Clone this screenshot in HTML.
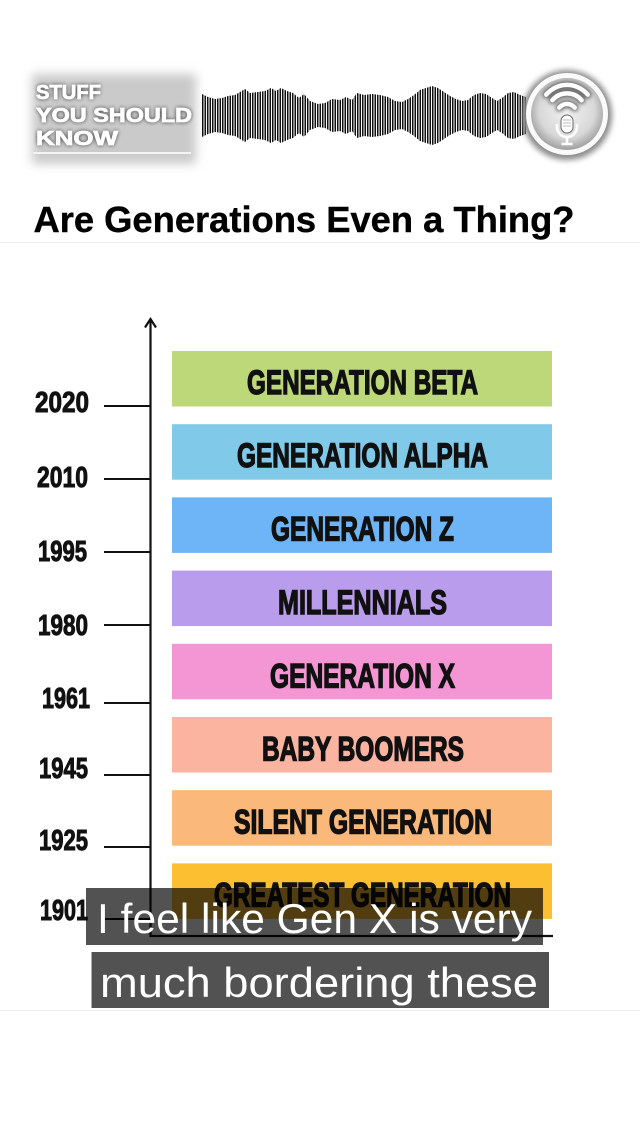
<!DOCTYPE html>
<html>
<head>
<meta charset="utf-8">
<style>
  html,body{margin:0;padding:0;background:#fff;}
  body{width:640px;height:1136px;overflow:hidden;}
  svg{display:block;}
  text{font-family:"Liberation Sans", Arial, sans-serif;}
</style>
</head>
<body>
<svg width="640" height="1136" viewBox="0 0 640 1136" xmlns="http://www.w3.org/2000/svg">
  <defs>
    <filter id="blur6" x="-20%" y="-30%" width="140%" height="160%"><feGaussianBlur stdDeviation="5"/></filter>
    <filter id="blur2" x="-20%" y="-30%" width="140%" height="160%"><feGaussianBlur stdDeviation="2"/></filter>
    <filter id="blur3" x="-30%" y="-30%" width="160%" height="160%"><feGaussianBlur stdDeviation="3"/></filter>
    <pattern id="wv" x="202" y="0" width="2.5" height="10" patternUnits="userSpaceOnUse">
      <rect x="0" y="0" width="1.5" height="10" fill="#111"/>
    </pattern>
    <radialGradient id="cg" cx="50%" cy="45%" r="55%">
      <stop offset="0%" stop-color="#f2f2f2"/>
      <stop offset="70%" stop-color="#d8d8d8"/>
      <stop offset="100%" stop-color="#a0a0a0"/>
    </radialGradient>
  </defs>

  <rect x="0" y="0" width="640" height="1136" fill="#ffffff"/>

  <!-- Logo block -->
  <rect x="32" y="74" width="164" height="90" fill="#cacaca" filter="url(#blur6)"/>
  <rect x="33" y="152" width="158" height="2" fill="#f4f4f4"/>
  <g font-weight="bold" font-size="20">
    <g fill="#111" filter="url(#blur2)" opacity="0.9">
      <text x="36" y="99" textLength="65" lengthAdjust="spacingAndGlyphs">STUFF</text>
      <text x="36" y="122" textLength="156" lengthAdjust="spacingAndGlyphs">YOU SHOULD</text>
      <text x="36" y="145" textLength="82" lengthAdjust="spacingAndGlyphs">KNOW</text>
    </g>
    <g fill="#ffffff" stroke="#ffffff" stroke-width="0.8">
      <text x="36" y="99" textLength="65" lengthAdjust="spacingAndGlyphs">STUFF</text>
      <text x="36" y="122" textLength="156" lengthAdjust="spacingAndGlyphs">YOU SHOULD</text>
      <text x="36" y="145" textLength="82" lengthAdjust="spacingAndGlyphs">KNOW</text>
    </g>
  </g>

  <!-- Waveform -->
  <polygon fill="url(#wv)" points="202,94 208,97 215,99 222,98 228,96 235,95 240,92 245,89 250,93 258,92 265,91 271,88 276,91 281,88 287,91 293,93 299,98 304,94 310,101 318,104 325,103 332,99 340,100 346,97 352,100 357,93 364,95 372,94 380,95 388,97 395,101 402,102 408,99 414,95 420,90 426,88 432,86 438,88 444,92 450,96 456,99 462,101 468,100 474,95 480,93 486,94 492,98 497,101 502,98 508,93 514,92 520,95 526,97 526,134 520,136 514,139 508,138 502,133 497,130 492,133 486,137 480,138 474,136 468,131 462,130 456,132 450,135 444,139 438,143 432,145 426,143 420,141 414,136 408,132 402,129 395,130 388,134 380,136 372,137 364,136 357,138 352,131 346,134 340,131 332,132 325,128 318,127 310,130 304,137 299,133 293,138 287,140 281,143 276,140 271,143 265,140 258,139 250,138 245,142 240,139 235,136 228,135 222,133 215,132 208,134 202,137"/>

  <!-- Podcast icon -->
  <circle cx="567" cy="115" r="45" fill="#8a8a8a" filter="url(#blur3)"/>
  <circle cx="567" cy="114" r="41" fill="#fafafa"/>
  <circle cx="567" cy="114" r="36" fill="url(#cg)"/>
  <g fill="none" stroke-linecap="round">
    <g stroke="#555" stroke-width="7" filter="url(#blur2)">
      <path d="M546.3 94.6 A27 27 0 0 1 587.7 94.6"/>
      <path d="M552.4 100.2 A19 19 0 0 1 581.6 100.2"/>
      <path d="M559.3 107.6 A10 10 0 0 1 574.7 107.6"/>
    </g>
    <g stroke="#ffffff" stroke-width="4.5">
      <path d="M546.3 94.6 A27 27 0 0 1 587.7 94.6"/>
      <path d="M552.4 100.2 A19 19 0 0 1 581.6 100.2"/>
      <path d="M559.3 107.6 A10 10 0 0 1 574.7 107.6"/>
    </g>
  </g>
  <g>
    <rect x="561" y="115" width="12" height="18" rx="6" fill="#ffffff" stroke="#666" stroke-width="1"/>
    <line x1="563" y1="120" x2="571" y2="120" stroke="#aaa" stroke-width="0.8"/>
    <line x1="563" y1="123" x2="571" y2="123" stroke="#aaa" stroke-width="0.8"/>
    <line x1="563" y1="126" x2="571" y2="126" stroke="#aaa" stroke-width="0.8"/>
    <path d="M557 124 v3 a10 10 0 0 0 20 0 v-3" fill="none" stroke="#ffffff" stroke-width="2.5"/>
    <line x1="567" y1="137" x2="567" y2="143" stroke="#ffffff" stroke-width="2.5"/>
    <line x1="561.5" y1="144" x2="572.5" y2="144" stroke="#ffffff" stroke-width="2.5"/>
  </g>

  <!-- Title -->
  <text x="33.5" y="232" font-size="36" font-weight="bold" fill="#000" stroke="#000" stroke-width="0.4" textLength="541" lengthAdjust="spacingAndGlyphs">Are Generations Even a Thing?</text>

  <rect x="0" y="242" width="640" height="1" fill="#eeeeee"/>
  <rect x="0" y="1010" width="640" height="1" fill="#eeeeee"/>

  <!-- bars -->
  <rect x="172" y="351"   width="380" height="55.5" fill="#bdd879"/>
  <rect x="172" y="424.2" width="380" height="55.5" fill="#80c9e8"/>
  <rect x="172" y="497.4" width="380" height="55.5" fill="#6db5f6"/>
  <rect x="172" y="570.6" width="380" height="55.5" fill="#ba9cec"/>
  <rect x="172" y="643.8" width="380" height="55.5" fill="#f596d4"/>
  <rect x="172" y="717"   width="380" height="55.5" fill="#fbb4a0"/>
  <rect x="172" y="790.2" width="380" height="55.5" fill="#fbb87b"/>
  <rect x="172" y="863.4" width="380" height="55.5" fill="#fcbf31"/>

  <g font-size="34" font-weight="bold" fill="#111" stroke="#111" stroke-width="1.4">
    <text x="247" y="394"   textLength="231" lengthAdjust="spacingAndGlyphs">GENERATION BETA</text>
    <text x="237" y="467.2" textLength="251" lengthAdjust="spacingAndGlyphs">GENERATION ALPHA</text>
    <text x="271" y="540.4" textLength="183" lengthAdjust="spacingAndGlyphs">GENERATION Z</text>
    <text x="278" y="614"   textLength="169" lengthAdjust="spacingAndGlyphs">MILLENNIALS</text>
    <text x="270" y="687.5" textLength="185" lengthAdjust="spacingAndGlyphs">GENERATION X</text>
    <text x="262" y="760.5" textLength="202" lengthAdjust="spacingAndGlyphs">BABY BOOMERS</text>
    <text x="234" y="833.5" textLength="258" lengthAdjust="spacingAndGlyphs">SILENT GENERATION</text>
    <text x="214" y="906.5" textLength="297" lengthAdjust="spacingAndGlyphs">GREATEST GENERATION</text>
  </g>

  <!-- axes -->
  <g stroke="#111" stroke-width="2.2" fill="none">
    <line x1="150.5" y1="319" x2="150.5" y2="937"/>
    <polyline points="145,327.5 150.5,319 156,327.5" stroke-linejoin="miter"/>
    <line x1="149.5" y1="936" x2="553" y2="936"/>
  </g>
  <g stroke="#111" stroke-width="2">
    <line x1="104" y1="406" x2="150" y2="406"/>
    <line x1="104" y1="479" x2="150" y2="479"/>
    <line x1="104" y1="552" x2="150" y2="552"/>
    <line x1="104" y1="625" x2="150" y2="625"/>
    <line x1="104" y1="703" x2="150" y2="703"/>
    <line x1="104" y1="775" x2="150" y2="775"/>
    <line x1="104" y1="847" x2="150" y2="847"/>
    <line x1="104" y1="919" x2="150" y2="919"/>
  </g>

  <g font-size="29" font-weight="bold" fill="#111" stroke="#111" stroke-width="1">
    <text x="35" y="412" textLength="54" lengthAdjust="spacingAndGlyphs">2020</text>
    <text x="37" y="487" textLength="51" lengthAdjust="spacingAndGlyphs">2010</text>
    <text x="38" y="561" textLength="49" lengthAdjust="spacingAndGlyphs">1995</text>
    <text x="38" y="635" textLength="50" lengthAdjust="spacingAndGlyphs">1980</text>
    <text x="42" y="708" textLength="48" lengthAdjust="spacingAndGlyphs">1961</text>
    <text x="39" y="778" textLength="49" lengthAdjust="spacingAndGlyphs">1945</text>
    <text x="39" y="850" textLength="49" lengthAdjust="spacingAndGlyphs">1925</text>
    <text x="40" y="920" textLength="48" lengthAdjust="spacingAndGlyphs">1901</text>
  </g>

  <!-- Subtitles -->
  <rect x="86" y="888" width="457" height="57" fill="#000" fill-opacity="0.68"/>
  <rect x="91.5" y="952" width="457.5" height="56" fill="#000" fill-opacity="0.68"/>
  <g font-size="42" fill="#ffffff">
    <text x="97" y="933" textLength="435" lengthAdjust="spacingAndGlyphs">I feel like Gen X is very</text>
    <text x="100" y="997" textLength="438" lengthAdjust="spacingAndGlyphs">much bordering these</text>
  </g>
</svg>
</body>
</html>
